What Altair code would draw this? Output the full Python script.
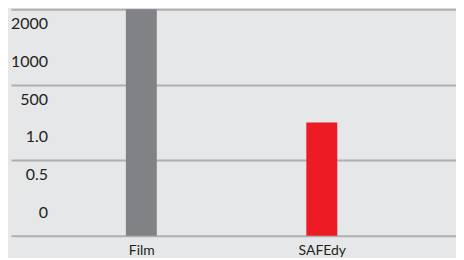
import altair as alt
import pandas as pd

# data
categories = ["Film", "SAFEdy"]
cat_index = [1, 2]
bar_levels = [6, 3]          # band level reached by each bar (0..6 bands)
bar_colors = ["#808285", "#ed1c24"]
y_tick_labels = ["0", "0.5", "1.0", "500", "1000", "2000"]
y_label_levels = [0.5, 1.5, 2.5, 3.5, 4.5, 5.5]
grid_levels = [0, 1, 2, 3, 4, 5, 6]

bars_df = pd.DataFrame({"cat": categories, "idx": cat_index,
                        "level": bar_levels, "color": bar_colors})
labels_df = pd.DataFrame({"label": y_tick_labels, "level": y_label_levels})

label_expr = " : ".join(
    f"datum.value == {i} ? '{c}'" for i, c in zip(cat_index, categories)
) + " : ''"

W, H = 446, 227
xscale = alt.Scale(domain=[0.3054, 2.716], nice=False, zero=False)
yscale = alt.Scale(domain=[0, 6], nice=False, zero=True)

bars = alt.Chart(bars_df).mark_bar(size=31).encode(
    x=alt.X("idx:Q", scale=xscale,
            axis=alt.Axis(values=cat_index, labelExpr=label_expr, title=None,
                          grid=False, ticks=False, domain=False,
                          labelFontSize=14, labelFont="Lato",
                          labelColor="#231f20", labelPadding=8)),
    y=alt.Y("level:Q", scale=yscale,
            axis=alt.Axis(values=grid_levels, labels=False, ticks=False,
                          domain=False, title=None, grid=True,
                          gridColor="#adafb2", gridWidth=2)),
    color=alt.Color("color:N", scale=None),
)

ylabels = alt.Chart(labels_df).mark_text(
    align="right", baseline="middle", fontSize=16, font="Lato",
    color="#231f20", dy=-4
).encode(
    x=alt.value(37),
    y=alt.Y("level:Q", scale=yscale),
    text="label:N",
)

chart = alt.layer(bars, ylabels).properties(
    width=W, height=H,
    padding={"left": 2, "top": 1, "right": 0, "bottom": 0},
    background="#e6e7e8",
).configure_view(stroke=None)

chart.save("out.html", embed_options={"renderer": "svg", "actions": False})
